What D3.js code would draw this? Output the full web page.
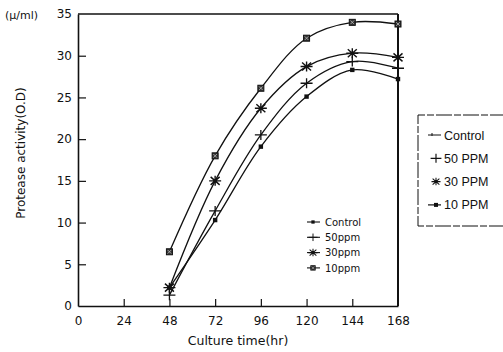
<!DOCTYPE html>
<html>
<head>
<meta charset="utf-8">
<script src="https://cdn.jsdelivr.net/npm/d3@7"></script>
<style>
  html, body { margin: 0; padding: 0; background: #fff; }
  svg { display: block; }
  text { fill: #111; }
</style>
</head>
<body>
<svg id="chart" width="503" height="352"></svg>
<script>
// Culture time (hr) at which activity was sampled
const hours = [48, 72, 96, 120, 144, 168];
// Protease activity (O.D) for each treatment
const control = [2.2, 10.3, 19.1, 25.1, 28.3, 27.2];
const ppm50   = [1.3, 11.4, 20.5, 26.7, 29.3, 28.5];
const ppm30   = [2.2, 15.0, 23.7, 28.7, 30.3, 29.8];
const ppm10   = [6.5, 18.0, 26.1, 32.1, 34.0, 33.8];
// Axis ticks
const xTicks = [0, 24, 48, 72, 96, 120, 144, 168];
const yTicks = [0, 5, 10, 15, 20, 25, 30, 35];
// Legend labels
const innerLabels = ["Control", "50ppm", "30ppm", "10ppm"];
const outerLabels = ["Control", "50 PPM", "30 PPM", "10 PPM"];

const series = [
  { key: "control", values: control, marker: "dot" },
  { key: "ppm50", values: ppm50, marker: "plus" },
  { key: "ppm30", values: ppm30, marker: "star" },
  { key: "ppm10", values: ppm10, marker: "square" }
];

const svg = d3.select("#chart");
const plotLeft = 78, plotRight = 398, plotTop = 14, plotBottom = 306;
const x = d3.scaleLinear().domain([0, 168]).range([plotLeft, plotRight]);
const y = d3.scaleLinear().domain([0, 35]).range([plotBottom, plotTop]);
const ink = "#111";
const serif = "'DejaVu Sans', sans-serif";

// Frame: top and right edges
svg.append("line").attr("x1", plotLeft).attr("x2", plotRight).attr("y1", plotTop).attr("y2", plotTop)
  .attr("stroke", ink).attr("stroke-width", 1.6);
svg.append("line").attr("x1", plotRight).attr("x2", plotRight).attr("y1", plotTop).attr("y2", plotBottom)
  .attr("stroke", ink).attr("stroke-width", 2);

// Bottom axis with inward ticks
const xAxis = svg.append("g").attr("transform", `translate(0,${plotBottom})`)
  .call(d3.axisBottom(x).tickValues(xTicks).tickSizeInner(-7).tickSizeOuter(0).tickPadding(14));
// Left axis with inward ticks
const yAxis = svg.append("g").attr("transform", `translate(${plotLeft},0)`)
  .call(d3.axisLeft(y).tickValues(yTicks).tickSizeInner(-8).tickSizeOuter(0).tickPadding(14));

[xAxis, yAxis].forEach(g => {
  g.select(".domain").attr("stroke", ink).attr("stroke-width", 1.6);
  g.selectAll(".tick line").attr("stroke", ink).attr("stroke-width", 1.2);
  g.selectAll(".tick text").attr("font-family", serif).attr("font-size", 12).attr("fill", ink);
});
xAxis.selectAll(".tick text").attr("dy", "0.71em").attr("y", 10);
yAxis.selectAll(".tick text").attr("x", -6);
// the frame corners already carry these ticks
yAxis.selectAll(".tick").filter(d => d === 0 || d === 35).select("line").remove();
xAxis.selectAll(".tick").filter(d => d === 0 || d === 168).select("line").remove();

// Axis titles
svg.append("text").attr("x", 238).attr("y", 345).attr("text-anchor", "middle")
  .attr("font-family", serif).attr("font-size", 12.5).text("Culture time(hr)");
svg.append("text").attr("transform", "translate(25,153) rotate(-90)").attr("text-anchor", "middle")
  .attr("font-family", serif).attr("font-size", 12).text("Protease activity(O.D)");
svg.append("text").attr("x", 5).attr("y", 19)
  .attr("font-family", serif).attr("font-size", 11).text("(μ/ml)");

// Curves
const line = d3.line().x((d, i) => x(hours[i])).y(d => y(d)).curve(d3.curveCatmullRom.alpha(0.5));
series.forEach(s => {
  svg.append("path").datum(s.values).attr("d", line)
    .attr("fill", "none").attr("stroke", ink).attr("stroke-width", 1.3);
});

// Marker drawing
function marker(g, type, cx, cy, scale = 1) {
  const m = g.append("g").attr("transform", `translate(${cx},${cy}) scale(${scale})`);
  if (type === "dot") {
    m.append("rect").attr("x", -2.2).attr("y", -2.2).attr("width", 4.4).attr("height", 4.4).attr("fill", ink);
  } else if (type === "plus") {
    m.append("path").attr("d", "M-6,0H6M0,-5V5").attr("stroke", ink).attr("stroke-width", 1.3);
  } else if (type === "star") {
    m.append("path").attr("d", "M-6,0H6M0,-5V5M-4.5,-4L4.5,4M-4.5,4L4.5,-4")
      .attr("stroke", ink).attr("stroke-width", 1.4);
  } else if (type === "square") {
    m.append("rect").attr("x", -3).attr("y", -3).attr("width", 6).attr("height", 6)
      .attr("fill", "#333").attr("stroke", ink).attr("stroke-width", 1);
    m.append("path").attr("d", "M-1.8,-1.8L1.8,1.8M-1.8,1.8L1.8,-1.8").attr("stroke", "#ccc").attr("stroke-width", 0.7);
  }
}

const markersG = svg.append("g");
series.forEach(s => {
  s.values.forEach((v, i) => marker(markersG, s.marker, x(hours[i]), y(v)));
});

// Legend inside the plot
const innerG = svg.append("g");
innerLabels.forEach((lab, i) => {
  const ly = 222 + i * 15.3;
  innerG.append("line").attr("x1", 307).attr("x2", 320).attr("y1", ly).attr("y2", ly)
    .attr("stroke", ink).attr("stroke-width", 1.1);
  marker(innerG, series[i].marker, 313, ly, 0.75);
  innerG.append("text").attr("x", 325).attr("y", ly + 3.8)
    .attr("font-family", serif).attr("font-size", 10).text(lab);
});

// Boxed legend at the right
const outerG = svg.append("g");
outerG.append("path")
  .attr("d", "M506,115H418V226H506")
  .attr("fill", "none").attr("stroke", ink).attr("stroke-width", 1)
  .attr("stroke-dasharray", "16,2,7,2");
outerLabels.forEach((lab, i) => {
  const ly = 135 + i * 23.3;
  const mx = 436;
  if (i === 0) {
    outerG.append("line").attr("x1", 428).attr("x2", 441).attr("y1", ly).attr("y2", ly)
      .attr("stroke", ink).attr("stroke-width", 1);
    outerG.append("line").attr("x1", 432).attr("x2", 432).attr("y1", ly - 2).attr("y2", ly + 1)
      .attr("stroke", ink).attr("stroke-width", 1);
  } else if (i === 1) {
    marker(outerG, "plus", mx, ly, 0.9);
  } else if (i === 2) {
    marker(outerG, "star", mx, ly, 0.75);
  } else {
    outerG.append("line").attr("x1", 428).attr("x2", 441).attr("y1", ly).attr("y2", ly)
      .attr("stroke", ink).attr("stroke-width", 1.2);
    outerG.append("rect").attr("x", 434).attr("y", ly - 2).attr("width", 4).attr("height", 4).attr("fill", ink);
  }
  outerG.append("text").attr("x", 444).attr("y", ly + 4.5)
    .attr("font-family", "'Liberation Sans', Arial, sans-serif").attr("font-size", 12.5).text(lab);
});
</script>
</body>
</html>
